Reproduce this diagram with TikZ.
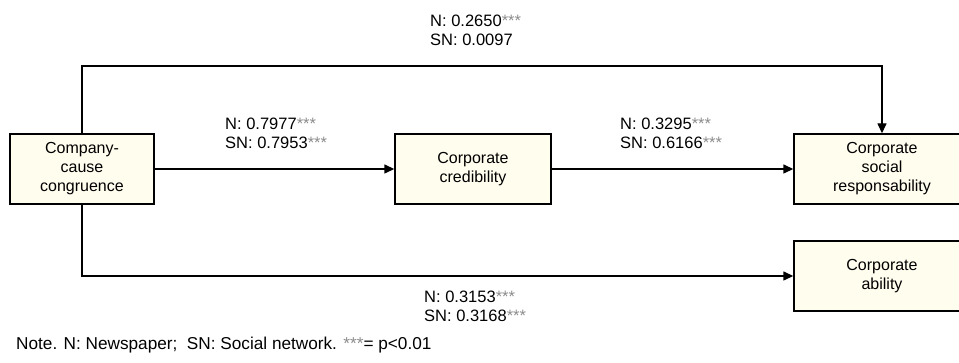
\documentclass[tikz,border=0pt]{standalone}
\usepackage{fontspec}
\setmainfont{Liberation Sans}
\usetikzlibrary{arrows.meta}
\definecolor{boxfill}{RGB}{255,253,238}
\definecolor{starcol}{RGB}{140,140,140}
\newcommand\mystars{\textcolor{starcol}{***}}
\tikzset{
  box/.style={draw=black, line width=1.4pt, fill=boxfill, minimum height=70pt, align=center, inner sep=0pt,
    font=\fontsize{16}{19}\selectfont},
  lbl/.style={align=left, inner sep=0pt, anchor=west, font=\fontsize{16.5}{19}\selectfont},
  conn/.style={line width=1.4pt, -{Triangle[length=10pt,width=9pt]}}
}
\begin{document}
\begin{tikzpicture}[x=1pt,y=-1pt]
\useasboundingbox (0,0) rectangle (959,363);
\node[box, minimum width=144pt] (cc) at (82,169) {Company-\\cause\\congruence};
\node[box, minimum width=156pt] (cred) at (473,169) {Corporate\\credibility};
\node[box, minimum width=176pt] (csr) at (882,169) {Corporate\\social\\responsability};
\node[box, minimum width=176pt] (ab) at (882,276) {Corporate\\ability};
\coordinate (tl) at (82,66);
\coordinate (tr) at (882,66);
\coordinate (bl) at (82,276);
\draw[conn] (cc.north) -- (tl) -- (tr) -- (csr.north);
\draw[conn] (cc.east) -- (cred.west);
\draw[conn] (cred.east) -- (csr.west);
\draw[conn] (cc.south) -- (bl) -- (ab.west);
\node[lbl] (l1) at (430,30.5) {N: 0.2650\mystars\\SN: 0.0097};
\node[lbl] (l2) at (225,133.5) {N: 0.7977\mystars\\SN: 0.7953\mystars};
\node[lbl] (l3) at (620,133.5) {N: 0.3295\mystars\\SN: 0.6166\mystars};
\node[lbl] (l4) at (424,306.5) {N: 0.3153\mystars\\SN: 0.3168\mystars};
\node[inner sep=0pt, anchor=base west, font=\fontsize{17.2}{19}\selectfont] (note) at (16,350) {Note. N: Newspaper;\ \ SN: Social network. \mystars= p<0.01};
\end{tikzpicture}
\end{document}
